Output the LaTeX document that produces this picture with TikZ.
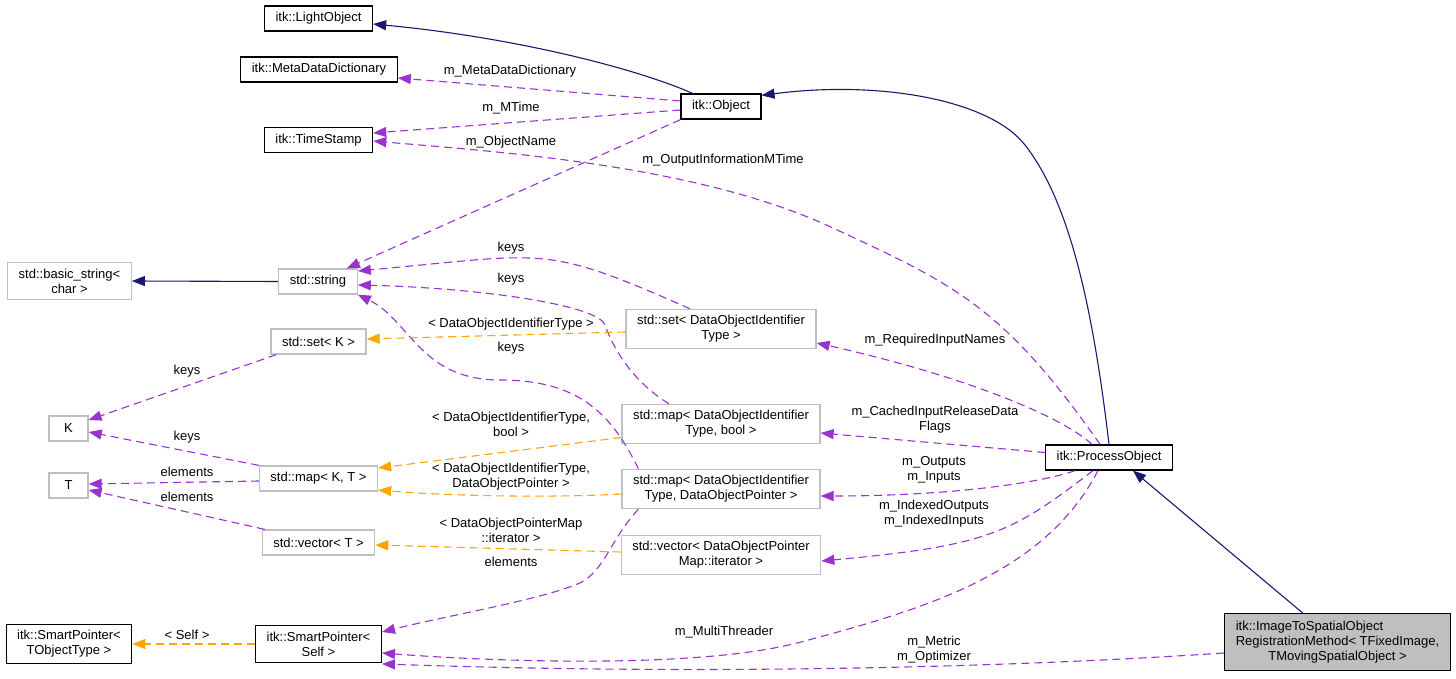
\documentclass[tikz,border=0pt]{standalone}
\usepackage{fontspec}
\setmainfont{Liberation Sans}
\usetikzlibrary{arrows.meta}
\definecolor{edgenavy}{HTML}{191970}
\definecolor{edgeorchid}{HTML}{9A32CD}
\definecolor{edgeorange}{HTML}{FFA500}
\definecolor{boxgrey}{HTML}{BFBFBF}
\begin{document}
\begin{tikzpicture}[x=1pt, y=-1pt,
  every node/.style={font=\fontsize{13}{15}\selectfont},
  docbox/.style={draw=black, line width=1.3pt, inner xsep=11pt, inner ysep=6pt, minimum height=25pt, align=center},
  extbox/.style={docbox, draw=boxgrey},
  inherit/.style={color=edgenavy, line width=1.1pt, -{Triangle[length=13pt,width=10pt]}},
  usage/.style={color=edgeorchid, line width=1.1pt, dash pattern=on 8pt off 5pt, -{Triangle[length=13pt,width=10pt]}},
  tmpl/.style={usage, color=edgeorange},
  lbl/.style={inner sep=0pt, align=center}]
  \fill[white](0,0) rectangle (1456,679);
  \useasboundingbox (0,0) rectangle (1456,679);
  % classes
  \node[docbox] (lightobj)  at (318.5,18.5) {itk::LightObject};
  \node[docbox] (metadict)  at (319,69.5)   {itk::MetaDataDictionary};
  \node[docbox] (timestamp) at (318.5,140)  {itk::TimeStamp};
  \node[extbox] (basicstr)  at (69.5,281)   {std::basic\_string<\\char >};
  \node[extbox] (stdstr)    at (318,281.5)  {std::string};
  \node[docbox] (object)    at (721,106.5)  {itk::Object};
  \node[extbox] (setk)      at (318.5,341.5){std::set< K >};
  \node[extbox,minimum width=39pt] (keyk) at (68.5,428.5) {K};
  \node[extbox] (mapkt)     at (318.5,478.5){std::map< K, T >};
  \node[extbox,minimum width=39pt] (valt) at (68.5,485.5) {T};
  \node[extbox] (vect)      at (318.5,542.5){std::vector< T >};
  \node[docbox] (sptype)    at (69,644)     {itk::SmartPointer<\\TObjectType >};
  \node[docbox] (spself)    at (318.5,644)  {itk::SmartPointer<\\Self >};
  \node[extbox] (setid)     at (721,329)    {std::set< DataObjectIdentifier\\Type >};
  \node[extbox] (mapbool)   at (721,424)    {std::map< DataObjectIdentifier\\Type, bool >};
  \node[extbox] (mapptr)    at (721,489)    {std::map< DataObjectIdentifier\\Type, DataObjectPointer >};
  \node[extbox] (veciter)   at (721,555)    {std::vector< DataObjectPointer\\Map::iterator >};
  \node[docbox] (procobj)   at (1109,457.5) {itk::ProcessObject};
  \node[docbox,fill=boxgrey] (regmethod) at (1337.5,642) {\begin{tabular}{@{}l@{}}itk::ImageToSpatialObject\\RegistrationMethod< TFixedImage,\\\multicolumn{1}{@{}c@{}}{TMovingSpatialObject >}\end{tabular}};
  % inheritance
  \draw[inherit]([xshift=12pt]object.north west) .. controls (640,70) and (520,38) .. ([yshift=-5.5pt]lightobj.east);
  \draw[inherit](procobj.north) .. controls (1092,300) and (1068,200) .. (1025,145) .. controls (990,100) and (880,80) .. ([yshift=-2pt]object.north east);
  \draw[inherit]([xshift=-35pt]regmethod.north) -- ([xshift=24pt]procobj.south);
  \draw[inherit](stdstr.west) -- (basicstr.east);
  % members
  \draw[usage]([yshift=5.5pt]object.west) -- ([yshift=-8.5pt]metadict.east);
  \draw[usage]([yshift=-3.5pt]object.west) -- ([yshift=7pt]timestamp.east);
  \draw[usage]([xshift=-9pt]procobj.north) .. controls (1002.6,305) and (953,284) .. (833,228) .. controls (698,165) and (499.7,152) .. ([yshift=-1pt]timestamp.east);
  \draw[usage](object.south west) -- ([xshift=-11pt]stdstr.north east);
  \draw[usage]([xshift=-31pt]setid.north) .. controls (542.6,243.6) and (547.7,253.7) .. ([yshift=10.5pt]stdstr.east);
  \draw[usage]([xshift=-52pt]mapbool.north) .. controls (630,380) and (612,345) .. (605,325) .. controls (598,305) and (480,288) .. ([yshift=-3.5pt]stdstr.east);
  \draw[usage]([xshift=17pt]mapptr.north west) .. controls (610,410) and (575,380) .. (500,380) .. controls (420,380) and (410,320) .. (stdstr.south east);
  \draw[usage]([xshift=17pt]mapptr.south west) .. controls (610,540) and (605,570) .. (580,583) .. controls (540,600) and (450,615) .. ([yshift=12pt]spself.east);
  \draw[usage]([xshift=6pt]setk.south west) -- ([yshift=8.5pt]keyk.east);
  \draw[usage](mapkt.north west) -- ([yshift=-3.5pt]keyk.east);
  \draw[usage]([yshift=-2.5pt]mapkt.west) -- ([yshift=1.5pt]valt.east);
  \draw[usage]([xshift=3pt]vect.north west) -- ([yshift=-4.5pt]valt.east);
  \draw[usage]([xshift=-17pt]procobj.north) .. controls (1060,415) and (960,375) .. ([yshift=-14pt]setid.east);
  \draw[usage]([yshift=5pt]procobj.west) -- ([yshift=-9pt]mapbool.east);
  \draw[usage]([xshift=-34pt]procobj.south) .. controls (1040,483) and (950,496) .. ([yshift=-7pt]mapptr.east);
  \draw[usage]([xshift=-16pt]procobj.south) .. controls (1011.6,532.8) and (989.9,545.5) .. ([yshift=-6pt]veciter.east);
  \draw[usage]([xshift=-11pt]procobj.south) .. controls (1043.8,574.8) and (923.1,609.3) .. (801,642) .. controls (696.8,669.9) and (487.3,661.1) .. ([yshift=-9pt]spself.east);
  \draw[usage]([yshift=-11pt]regmethod.west) .. controls (1000,668) and (700,675) .. ([yshift=-1pt]spself.south east);
  % template instances
  \draw[tmpl]([yshift=-3pt]setid.west) -- ([yshift=2.5pt]setk.east);
  \draw[tmpl]([yshift=-13.5pt]mapbool.west) -- ([yshift=10.5pt]mapkt.east);
  \draw[tmpl]([yshift=-5pt]mapptr.west) .. controls (550,498) and (450,496) .. ([yshift=-11.5pt]mapkt.east);
  \draw[tmpl]([yshift=3pt]veciter.west) -- ([yshift=-2.5pt]vect.east);
  \draw[tmpl](spself.west) -- (sptype.east);
  % edge labels
  \node[lbl] (lmeta)     at (510,71)    {m\_MetaDataDictionary};
  \node[lbl] (lmtime)    at (511,108)   {m\_MTime};
  \node[lbl] (lname)     at (511,142)   {m\_ObjectName};
  \node[lbl] (loutinfo)  at (723,160)   {m\_OutputInformationMTime};
  \node[lbl] (lkeysset)  at (511,248)   {keys};
  \node[lbl] (lkeysbool) at (511,279)   {keys};
  \node[lbl] (lidtype)   at (511,324)   {< DataObjectIdentifierType >};
  \node[lbl] (lreqin)    at (935,340)   {m\_RequiredInputNames};
  \node[lbl] (lkeysptr)  at (511,348)   {keys};
  \node[lbl] (lkeysk)    at (187,371)   {keys};
  \node[lbl] (lcached)   at (935,419.5) {m\_CachedInputReleaseData\\Flags};
  \node[lbl] (lidbool)   at (511,424)   {< DataObjectIdentifierType,\\bool >};
  \node[lbl] (lkeysmap)  at (187,437)   {keys};
  \node[lbl] (lputs)     at (934,470)   {m\_Outputs\\m\_Inputs};
  \node[lbl] (lelmap)    at (187,472)   {elements};
  \node[lbl] (lidptr)    at (511,477)   {< DataObjectIdentifierType,\\DataObjectPointer >};
  \node[lbl] (lelvec)    at (187,497)   {elements};
  \node[lbl] (lindexed)  at (934,514)   {m\_IndexedOutputs\\m\_IndexedInputs};
  \node[lbl] (lptrmap)   at (511,530)   {< DataObjectPointerMap\\::iterator >};
  \node[lbl] (lelsp)     at (511,562)   {elements};
  \node[lbl] (lthreader) at (724,632)   {m\_MultiThreader};
  \node[lbl] (lself)     at (187,635)   {< Self >};
  \node[lbl] (lmetric)   at (934,650)   {m\_Metric\\m\_Optimizer};
\end{tikzpicture}
\end{document}
